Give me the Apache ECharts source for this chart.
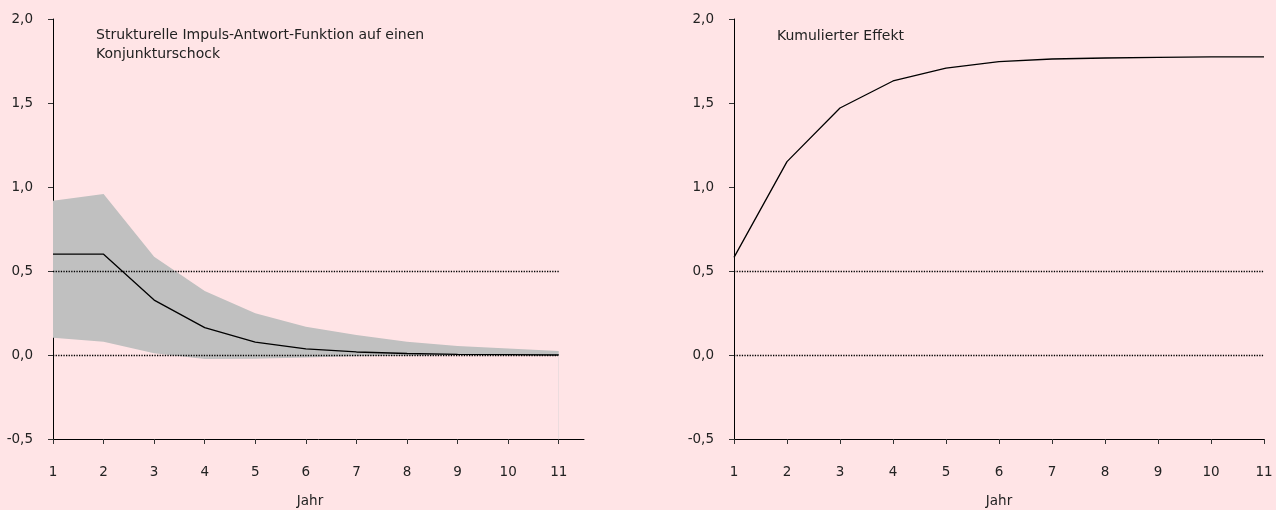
<!DOCTYPE html>
<html>
<head>
<meta charset="utf-8">
<script src="https://cdn.jsdelivr.net/npm/echarts@6/dist/echarts.min.js"></script>
<style>
html,body{margin:0;padding:0;background:#ffe4e6;}
#c{width:1276px;height:510px;}
</style>
</head>
<body>
<div id="c"></div>
<script>
const years = [1,2,3,4,5,6,7,8,9,10,11];
const irf = [0.60,0.60,0.327,0.163,0.077,0.036,0.018,0.009,0.004,0.002,0.0];
const irfUpper = [0.918,0.958,0.585,0.381,0.248,0.168,0.119,0.079,0.054,0.038,0.024];
const irfLower = [0.103,0.079,0.01,-0.024,-0.022,-0.015,-0.008,-0.004,-0.002,-0.001,0.0];
const cumulative = [0.581,1.151,1.470,1.631,1.708,1.746,1.762,1.768,1.772,1.774,1.775];
const yTicks = [-0.5,0,0.5,1,1.5,2];
const titleLeft = ['Strukturelle Impuls-Antwort-Funktion auf einen','Konjunkturschock'];
const titleRight = 'Kumulierter Effekt';
const xName = 'Jahr';

const FONT = '"DejaVu Sans"';
const fmtY = v => v.toFixed(1).replace('.', ',');
const pairs = arr => years.map((y,i)=>[y,arr[i]]);
// value first, year second (encode maps them), so stacking works on the value dimension
const pairsYX = arr => years.map((y,i)=>[arr[i],y]);

function yAxisCfg(gi){
  return {
    type:'value', gridIndex:gi, min:-0.5, max:2, interval:0.5,
    axisLine:{show:true,lineStyle:{color:'#000',width:1}},
    axisTick:{show:true,length:5,lineStyle:{color:'#333'}},
    axisLabel:{formatter:fmtY,color:'#222',fontFamily:FONT,fontSize:13.5,margin:20},
    splitLine:{show:false}
  };
}
function xAxisCfg(gi,max,padRight){
  return {
    type:'value', gridIndex:gi, min:1, max:max, interval:1,
    axisLine:{show:true,onZero:false,lineStyle:{color:'#000',width:1}},
    axisTick:{show:true,length:5,customValues:years,lineStyle:{color:'#333'}},
    axisLabel:{customValues:years,color:'#222',fontFamily:FONT,fontSize:13.5,margin:26},
    splitLine:{show:false},
    name:xName, nameLocation:'middle', nameGap:55,
    nameTextStyle:{color:'#222',fontFamily:FONT,fontSize:13.5,padding:[0,padRight,0,0]}
  };
}
const dotted = {type:'dotted',color:'#000',width:1.3};

const option = {
  backgroundColor:'#ffe4e6',
  animation:false,
  grid:[
    {left:53,right:1276-584,top:19,bottom:71,containLabel:false,outerBoundsMode:'none'},
    {left:734,right:12,top:19,bottom:71,containLabel:false,outerBoundsMode:'none'}
  ],
  xAxis:[xAxisCfg(0,11.5,17), xAxisCfg(1,11,0)],
  yAxis:[yAxisCfg(0), yAxisCfg(1)],
  graphic:[
    {type:'text',left:96,top:26,z:100,style:{text:titleLeft.join('\n'),fill:'#222',font:'14px '+FONT,lineHeight:19}},
    {type:'text',left:777,top:29,z:100,style:{text:titleRight,fill:'#222',font:'14px '+FONT}}
  ],
  series:[
    {type:'line',xAxisIndex:0,yAxisIndex:0,data:pairsYX(irfLower),encode:{x:1,y:0},stack:'band',stackStrategy:'all',
     symbol:'none',lineStyle:{opacity:0},silent:true},
    {type:'line',xAxisIndex:0,yAxisIndex:0,data:pairsYX(irfUpper.map((u,i)=>u-irfLower[i])),encode:{x:1,y:0},stack:'band',stackStrategy:'all',
     symbol:'none',lineStyle:{opacity:0},areaStyle:{color:'#c0c0c0',opacity:1},silent:true},
    {type:'line',xAxisIndex:0,yAxisIndex:0,data:pairs(irf),symbol:'none',
     lineStyle:{color:'#000',width:1.3},z:5,
     markLine:{silent:true,symbol:'none',label:{show:false},
       data:[
         [{coord:[1,0],lineStyle:dotted},{coord:[11,0]}],
         [{coord:[1,0.5],lineStyle:dotted},{coord:[11,0.5]}],
         [{coord:[11,-0.5],lineStyle:{type:'solid',color:'#ecdcde',width:1}},{coord:[11,0]}]
       ]}},
    {type:'line',xAxisIndex:1,yAxisIndex:1,data:pairs(cumulative),symbol:'none',
     lineStyle:{color:'#000',width:1.3},z:5,
     markLine:{silent:true,symbol:'none',label:{show:false},
       data:[
         [{coord:[1,0],lineStyle:dotted},{coord:[11,0]}],
         [{coord:[1,0.5],lineStyle:dotted},{coord:[11,0.5]}]
       ]}}
  ]
};
const chart = echarts.init(document.getElementById('c'),null,{renderer:'canvas'});
chart.setOption(option);
</script>
</body>
</html>
